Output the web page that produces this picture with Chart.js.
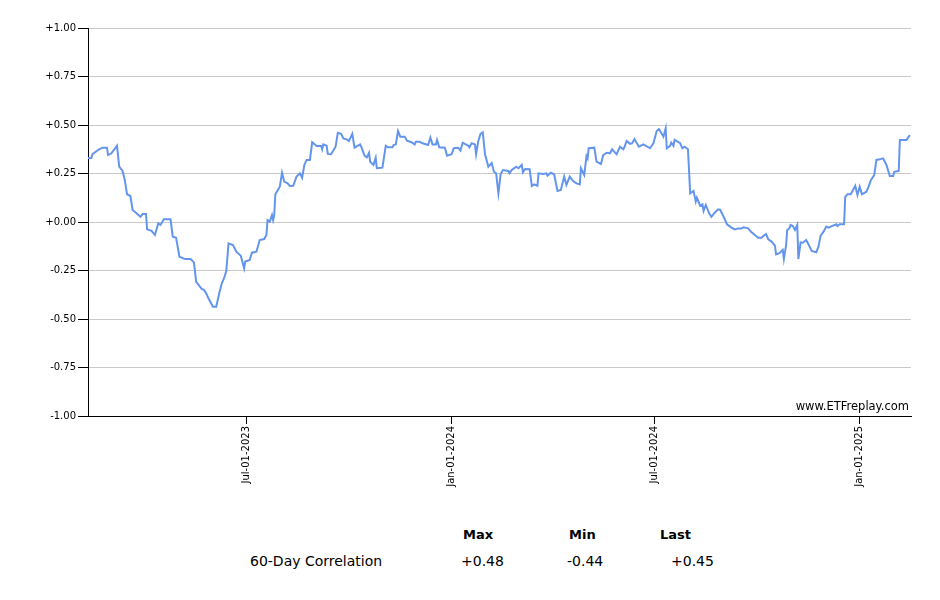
<!DOCTYPE html>
<html>
<head>
  <title>60-Day Correlation</title>
  <script src="https://cdn.jsdelivr.net/npm/chart.js"></script>
  <style>
    body { margin: 0; background: #fff; font-family: "DejaVu Sans", Verdana, sans-serif; }
    #wrap { position: relative; width: 940px; height: 600px; }
    .cell { position: absolute; font-size: 14px; line-height: 16px; color: #000; white-space: nowrap; }
    .head { font-weight: bold; font-size: 13px; }
  </style>
</head>
<body>
<div id="wrap">
  <canvas id="corrChart" width="940" height="500"></canvas>

  <div class="cell head" style="left:463px; top:527px;">Max</div>
  <div class="cell head" style="left:569px; top:527px;">Min</div>
  <div class="cell head" style="left:660px; top:527px;">Last</div>
  <div class="cell" style="left:250px; top:553px;">60-Day Correlation</div>
  <div class="cell" id="vMax" style="left:461px; top:553px;"></div>
  <div class="cell" id="vMin" style="left:567px; top:553px;"></div>
  <div class="cell" id="vLast" style="left:671px; top:553px;"></div>
</div>

<script>
  // x positions: days counted from 2023-07-01
  const days = [
    -142, -139, -138, -132, -129, -125, -124, -121, -116, -114, -111, -109, -107, -104, -102, -99,
    -95, -93, -90, -89, -85, -82, -79, -77, -74, -68, -66, -63, -60, -55, -50, -47,
    -45, -40, -38, -36, -34, -30, -27, -24, -22, -20, -18, -16, -12, -9, -5, -2,
    -1, 3, 5, 9, 12, 16, 18, 19, 21, 23, 24, 25, 26, 30, 32, 34,
    37, 39, 42, 45, 48, 50, 52, 54, 57, 59, 63, 67, 68, 69, 72, 73,
    76, 80, 82, 85, 87, 90, 92, 95, 97, 102, 103, 106, 108, 110, 111, 114,
    116, 117, 122, 125, 127, 131, 132, 134, 136, 138, 142, 144, 148, 151, 152, 155,
    158, 163, 165, 167, 170, 171, 173, 178, 180, 184, 186, 190, 192, 194, 199, 200,
    202, 205, 206, 208, 210, 212, 214, 217, 220, 222, 224, 226, 228, 230, 235, 236,
    238, 242, 244, 247, 248, 250, 254, 256, 258, 261, 262, 266, 269, 270, 273, 276,
    279, 282, 285, 287, 290, 293, 296, 299, 300, 303, 305, 306, 307, 312, 314, 318,
    320, 323, 326, 328, 332, 335, 338, 339, 341, 344, 346, 348, 352, 356, 362, 365,
    368, 370, 374, 376, 377, 380, 381, 383, 384, 389, 391, 393, 396, 398, 401, 403,
    404, 407, 409, 410, 412, 415, 417, 420, 423, 425, 429, 431, 435, 438, 441, 444,
    446, 450, 453, 456, 459, 462, 464, 466, 468, 471, 474, 475, 478, 481, 482, 484,
    485, 487, 488, 490, 492, 494, 495, 497, 499, 502, 504, 507, 511, 513, 515, 518,
    520, 522, 525, 529, 530, 532, 536, 537, 539, 542, 546, 548, 550, 552, 556, 558,
    560, 563, 565, 568, 571, 574, 577, 580, 581, 585, 586, 588, 592, 595
  ];

  const correlation = [
    0.33, 0.33, 0.35, 0.375, 0.383, 0.383, 0.345, 0.354, 0.393, 0.285, 0.263, 0.216, 0.143, 0.134, 0.062, 0.048,
    0.027, 0.041, 0.041, -0.038, -0.046, -0.067, -0.007, -0.015, 0.014, 0.014, -0.076, -0.081, -0.179, -0.191, -0.191, -0.208,
    -0.308, -0.345, -0.35, -0.368, -0.393, -0.437, -0.437, -0.36, -0.316, -0.29, -0.253, -0.11, -0.119, -0.153, -0.174, -0.239,
    -0.204, -0.196, -0.158, -0.153, -0.093, -0.088, -0.067, 0.01, 0.002, 0.036, 0.01, 0.036, 0.143, 0.182, 0.254, 0.208,
    0.199, 0.186, 0.187, 0.234, 0.251, 0.228, 0.294, 0.32, 0.32, 0.411, 0.392, 0.392, 0.375, 0.4, 0.393, 0.351,
    0.349, 0.388, 0.46, 0.454, 0.431, 0.426, 0.418, 0.454, 0.383, 0.4, 0.388, 0.342, 0.333, 0.357, 0.311, 0.294,
    0.331, 0.277, 0.28, 0.393, 0.385, 0.385, 0.397, 0.4, 0.469, 0.44, 0.44, 0.419, 0.411, 0.4, 0.414, 0.414,
    0.406, 0.397, 0.435, 0.4, 0.4, 0.423, 0.385, 0.383, 0.342, 0.349, 0.38, 0.383, 0.368, 0.409, 0.393, 0.385,
    0.406, 0.4, 0.349, 0.418, 0.454, 0.462, 0.349, 0.285, 0.304, 0.259, 0.251, 0.148, 0.246, 0.268, 0.263, 0.251,
    0.268, 0.285, 0.277, 0.294, 0.256, 0.273, 0.272, 0.186, 0.194, 0.187, 0.251, 0.247, 0.251, 0.239, 0.254, 0.246,
    0.16, 0.165, 0.234, 0.191, 0.234, 0.211, 0.199, 0.194, 0.277, 0.242, 0.34, 0.328, 0.38, 0.383, 0.311, 0.299,
    0.345, 0.357, 0.354, 0.375, 0.349, 0.388, 0.375, 0.385, 0.418, 0.403, 0.406, 0.428, 0.388, 0.4, 0.38, 0.406,
    0.469, 0.479, 0.44, 0.483, 0.38, 0.393, 0.409, 0.393, 0.423, 0.406, 0.38, 0.388, 0.375, 0.148, 0.16, 0.105,
    0.125, 0.084, 0.091, 0.057, 0.088, 0.045, 0.027, 0.048, 0.065, 0.062, 0.014, -0.012, -0.029, -0.038, -0.033, -0.033,
    -0.027, -0.033, -0.053, -0.067, -0.081, -0.081, -0.07, -0.062, -0.089, -0.101, -0.122, -0.167, -0.161, -0.144, -0.191, -0.119,
    -0.041, -0.033, -0.015, -0.021, -0.041, -0.015, -0.191, -0.105, -0.107, -0.093, -0.115, -0.149, -0.156, -0.127, -0.07, -0.046,
    -0.024, -0.029, -0.021, -0.012, -0.021, -0.012, -0.012, 0.13, 0.143, 0.143, 0.187, 0.139, 0.182, 0.143, 0.156, 0.182,
    0.216, 0.242, 0.32, 0.323, 0.328, 0.294, 0.237, 0.237, 0.259, 0.263, 0.423, 0.423, 0.423, 0.448
  ];

  const xTickDays = [0, 184, 366, 550];
  const xTickLabels = ["Jul-01-2023", "Jan-01-2024", "Jul-01-2024", "Jan-01-2025"];
  const yTicks = [1, 0.75, 0.5, 0.25, 0, -0.25, -0.5, -0.75, -1];

  function signed(v) {
    return (v >= 0 ? "+" : "") + v.toFixed(2);
  }

  const points = days.map((d, i) => ({ x: d, y: correlation[i] }));

  const watermark = {
    id: "watermark",
    afterDraw(chart) {
      const ctx = chart.ctx;
      const area = chart.chartArea;
      ctx.save();
      ctx.font = "11.5px 'DejaVu Sans', Verdana, sans-serif";
      ctx.fillStyle = "#000";
      ctx.textAlign = "right";
      ctx.textBaseline = "alphabetic";
      ctx.fillText("www.ETFreplay.com", area.right - 2, area.bottom - 6);
      ctx.restore();
    }
  };

  new Chart(document.getElementById("corrChart"), {
    type: "line",
    data: {
      datasets: [{
        data: points,
        borderColor: "#6495ED",
        borderWidth: 2,
        pointRadius: 0,
        tension: 0,
        fill: false
      }]
    },
    plugins: [watermark],
    options: {
      responsive: false,
      animation: false,
      layout: { padding: { top: 28, right: 29, left: 0, bottom: 0 } },
      plugins: { legend: { display: false }, tooltip: { enabled: false } },
      scales: {
        x: {
          type: "linear",
          min: -142,
          max: 596,
          afterBuildTicks: s => { s.ticks = xTickDays.map(v => ({ value: v })); },
          afterFit: s => { s.height = 84; },
          grid: { drawOnChartArea: false, tickLength: 8, tickColor: "#000" },
          border: { color: "#000", width: 1 },
          ticks: {
            minRotation: 90,
            maxRotation: 90,
            padding: 2,
            color: "#000",
            font: { family: "'DejaVu Sans', Verdana, sans-serif", size: 10 },
            callback: (v, i) => xTickLabels[i]
          }
        },
        y: {
          min: -1,
          max: 1,
          afterBuildTicks: s => { s.ticks = yTicks.map(v => ({ value: v })); },
          afterFit: s => { s.width = 88; },
          grid: { color: "#c8c8c8", tickColor: "#000", tickLength: 10 },
          border: { color: "#000", width: 1 },
          ticks: {
            padding: 2,
            color: "#000",
            font: { family: "'DejaVu Sans', Verdana, sans-serif", size: 10 },
            callback: v => signed(v)
          }
        }
      }
    }
  });

  document.getElementById("vMax").textContent = signed(Math.max(...correlation));
  document.getElementById("vMin").textContent = signed(Math.min(...correlation));
  document.getElementById("vLast").textContent = signed(correlation[correlation.length - 1]);
</script>
</body>
</html>
